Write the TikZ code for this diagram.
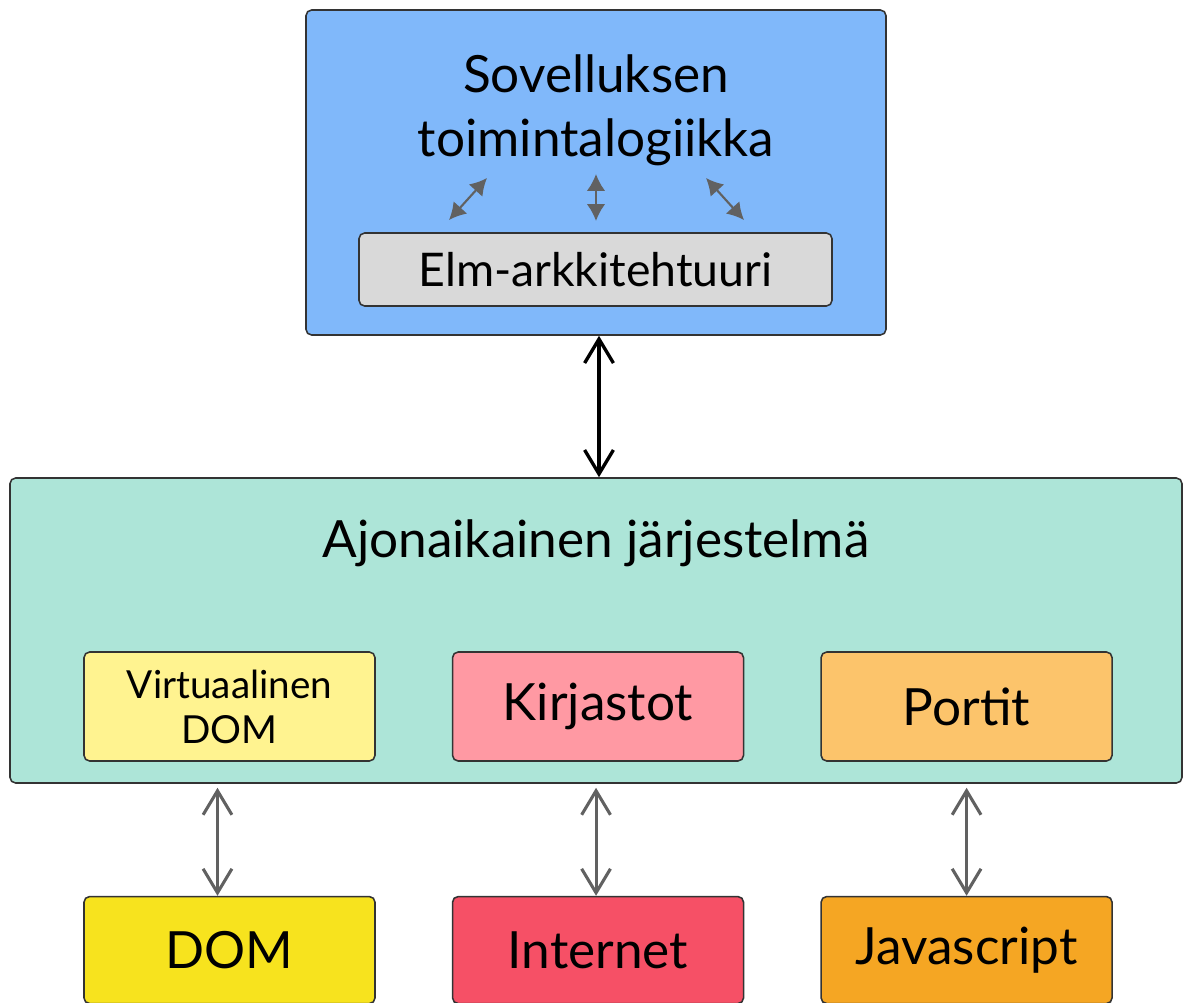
\documentclass[tikz,border=0pt]{standalone}
\usepackage{fontspec}
\setmainfont{Lato}
\usetikzlibrary{positioning, arrows.meta, calc}
\definecolor{appblue}{HTML}{80B8FA}
\definecolor{elmgray}{HTML}{D9D9D9}
\definecolor{rtgreen}{HTML}{ADE5D8}
\definecolor{vdomyellow}{HTML}{FFF390}
\definecolor{libpink}{HTML}{FF99A3}
\definecolor{portorange}{HTML}{FCC46B}
\definecolor{domyellow}{HTML}{F7E31E}
\definecolor{netred}{HTML}{F65066}
\definecolor{jsorange}{HTML}{F5A623}

\begin{document}
\begin{tikzpicture}[
    box/.style={rectangle, rounded corners=4pt, draw=black!80, line width=1.1pt, align=center},
    part/.style={box, minimum width=7.275cm, minimum height=2.725cm, font=\fontsize{36.5}{42}\selectfont},
    outer/.style={box, minimum width=7.275cm, minimum height=2.675cm, font=\fontsize{36.5}{42}\selectfont},
    bigarrow/.style={line width=2.4pt, {Straight Barb[length=0.6cm,width=0.72cm]}-{Straight Barb[length=0.6cm,width=0.72cm]}},
    grayarrow/.style={bigarrow, draw=black!62, line width=2.2pt},
    smallarrow/.style={draw=black!62, line width=1.5pt, {Latex[length=0.42cm,width=0.46cm]}-{Latex[length=0.42cm,width=0.46cm]}}
]
    \useasboundingbox (0,0) rectangle (29.575,-25.075);

    % application logic on top
    \node[box, fill=appblue, minimum width=14.5cm, minimum height=8.125cm] (app) at (14.9,-4.3125) {};
    \node[font=\fontsize{36.5}{45.5}\selectfont, align=center] (logic) at (14.9,-2.75) {Sovelluksen\\toimintalogiikka};
    \node[box, fill=elmgray, minimum width=11.825cm, minimum height=1.825cm, font=\fontsize{33}{38}\selectfont] (elm) at (14.8875,-6.7375) {Elm-arkkitehtuuri};

    \coordinate (la) at (11.225,-5.5);   \coordinate (lb) at (12.175,-4.45);
    \coordinate (ma) at (14.9,-4.35);    \coordinate (mb) at (14.9,-5.525);
    \coordinate (ra) at (17.65,-4.45);   \coordinate (rb) at (18.6,-5.5);
    \draw[smallarrow] (la) -- (lb);
    \draw[smallarrow] (ma) -- (mb);
    \draw[smallarrow] (ra) -- (rb);

    % runtime system
    \node[box, fill=rtgreen, minimum width=29.3cm, minimum height=7.625cm] (runtime) at (14.9,-15.7625) {};
    \node[font=\fontsize{36.5}{42}\selectfont] (rtlabel) at (14.9,-13.575) {Ajonaikainen järjestelmä};

    \node[part, fill=vdomyellow, font=\fontsize{27.5}{32}\selectfont] (vdom) at (5.7375,-17.6625) {Virtuaalinen\\DOM};
    \node[part, fill=libpink, right=1.9cm of vdom] (libs) {Kirjastot};
    \node[part, fill=portorange, right=1.9cm of libs] (ports) {Portit};

    % outside world
    \node[outer, fill=domyellow, below=3.35cm of vdom.south, anchor=north] (dom) {DOM};
    \node[outer, fill=netred, below=3.35cm of libs.south, anchor=north] (net) {Internet};
    \node[outer, fill=jsorange, below=3.35cm of ports.south, anchor=north] (js) {Javascript};

    \draw[bigarrow] ($(app.south)+(0.075,0)$) -- ($(runtime.north)+(0.075,0)$);
    \draw[grayarrow] ($(vdom.south |- runtime.south)+(-0.3,-0.1)$) -- ($(dom.north)+(-0.3,0)$);
    \draw[grayarrow] ($(libs.south |- runtime.south)+(-0.05,-0.1)$) -- ($(net.north)+(-0.05,0)$);
    \draw[grayarrow] ($(ports.south |- runtime.south)+(0,-0.1)$) -- (js.north);
\end{tikzpicture}
\end{document}
